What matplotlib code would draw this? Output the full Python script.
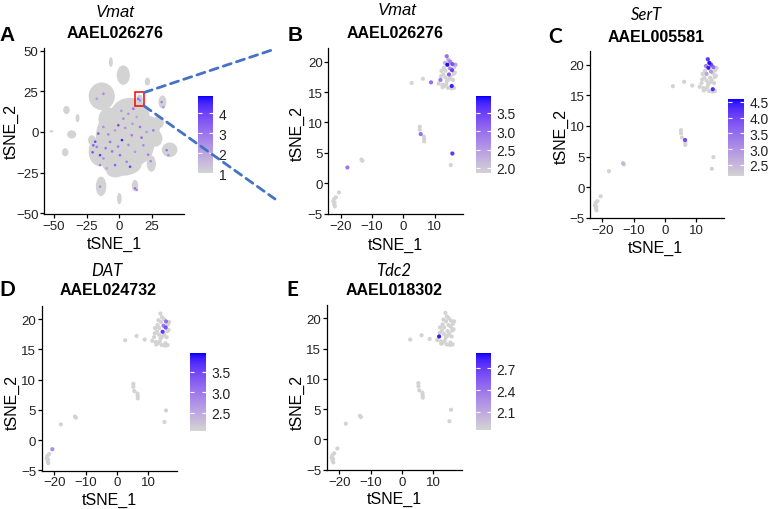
import matplotlib
matplotlib.use("Agg")
import matplotlib.pyplot as plt
import matplotlib.patches as patches
from matplotlib.colors import ListedColormap, Normalize
from matplotlib.cm import ScalarMappable
import numpy as np

plt.rcParams['font.family'] = ['Liberation Sans', 'DejaVu Sans']

W, H = 779, 510

# ---------------- panel A: whole atlas, cluster outlines (x, y, width, height) ----------------
blob_x = [5, 8, -15, 22, 2, 28, -21, -13.5, 3, -6.5, 21.5, 15.5, 33, -40.5, -36.5, -52, -41.5, -32, 38.5, 24.5, -14, 12, 0,
          -8, 16, -3, 30]
blob_y = [-3, 10, -12, 2, -20, -4, -5, 22, 35, 43, 31, 20, 18.5, 13.5, -1.5, 0.4, -12.5, 8.5, -11, -19.5, -33.5, -33, -41,
          8, -10, -24, 6]
blob_w = [46, 30, 17, 18, 30, 10, 6, 20, 10, 3, 4, 5, 6, 5, 7, 3, 5, 3, 12, 7, 8, 5, 3.5,
          16, 20, 14, 8]
blob_h = [40, 22, 18, 16, 14, 10, 6, 17, 12, 6, 5, 6, 8, 5, 5, 1.5, 5, 5, 9, 10, 12, 7, 7,
          14, 18, 8, 8]

# expressing cells in panel A
a_x = [-19.9, -17.3, -14.8, -12.2, -7.1, -3.3, -0.8, 3.1, 6.9, 10.7, 13.3, 15.8, 0.5, 5.6,
       8.2, 12.0, 18.4, -3.3, -9.7, -14.8, -16.1, -12.2, 20.9, 26.0, 36.2, 37.5, 32.4, 33.7,
       14.5, 15.8, 12.0, 13.3, -14.8, -17.3, -12.2, 2.0, -5.5, 9.5, -20.5, 24.0,
       -1.0, 4.5, 17.0, -8.5, 10.0, 22.0, -18.5, 7.0, 1.5, -10.5]
a_y = [-8.2, -9.2, -14.3, -16.3, -6.1, 1.0, 4.1, 8.2, 11.2, 14.3, 9.2, 3.1, -14.3, -18.4,
       -21.4, -12.2, -8.2, -20.4, -22.4, -20.4, -1.0, 3.1, 0.0, 1.0, -11.2, -14.3, 18.4, 15.3,
       20.4, 19.4, -34.7, -35.7, -33.7, 20.4, 23.5, -5.0, -12.0, -2.0, -12.5, -18.0,
       -9.0, 2.5, -3.5, -1.5, 5.0, -14.0, -6.0, -8.0, 13.0, -10.0]
a_val = [3.5, 2.8, 4.2, 2.5, 3.0, 2.2, 3.8, 2.6, 2.4, 3.1, 2.0, 2.9, 3.3, 2.7,
         4.0, 2.3, 2.6, 3.4, 2.1, 2.8, 3.6, 2.5, 2.2, 2.9, 3.0, 2.4, 2.7, 2.3,
         3.2, 2.6, 3.0, 2.5, 2.4, 2.2, 2.6, 4.5, 3.1, 2.8, 3.7, 2.5,
         2.9, 2.4, 3.3, 2.6, 2.2, 2.8, 3.9, 2.5, 2.3, 3.0]

# ---------------- panels B-E: zoomed cell subset ----------------
cell_x = [-22.2, -22.4, -22.1, -21.9, -21.6, -22.0, -20.6, -17.9, -13.4, -13.1,
          5.2, 5.2, 5.5, 6.5, 6.6, 6.6, 15.6, 15.1, 2.6, 6.2, 8.8,
          13.8, 14.3, 14.0, 15.6, 16.2, 15.5, 13.4, 12.7, 11.8, 11.2, 12.4, 13.6,
          15.4, 15.3, 16.1, 14.5, 13.4, 12.9, 14.5, 15.0, 16.4, 16.6, 13.2, 14.8,
          12.1, 13.9, 15.8, 14.2, 12.0, 16.0, 14.9, 13.0, 12.5]
cell_y = [-2.6, -3.0, -3.5, -3.8, -2.3, -3.2, -1.5, 2.6, 3.9, 3.7,
          9.3, 8.8, 8.1, 7.7, 7.3, 6.9, 4.9, 3.0, 16.5, 17.2, 16.6,
          20.9, 20.3, 19.5, 19.6, 19.1, 18.6, 18.5, 17.9, 17.0, 16.4, 16.2, 16.3,
          16.0, 15.6, 15.7, 17.1, 17.4, 19.0, 17.9, 17.5, 18.2, 19.5, 19.8, 18.9,
          18.5, 16.8, 17.0, 15.7, 17.6, 18.0, 20.0, 16.0, 15.8]

n_cells = len(cell_x)


def expr(pairs):
    vals = [0.0] * n_cells
    for i, v in pairs.items():
        vals[i] = v
    return vals


vmat = expr({7: 2.9, 12: 3.0, 16: 3.6, 20: 3.0, 21: 3.0, 23: 3.9, 24: 3.3, 26: 3.5,
             29: 2.9, 33: 3.8, 39: 3.2, 44: 2.6, 51: 2.8, 42: 2.4, 22: 2.3, 43: 2.2})
sert = expr({13: 4.0, 21: 4.2, 22: 4.5, 23: 4.4, 51: 4.0, 24: 3.5, 44: 3.0, 43: 3.2,
             33: 4.3, 27: 2.8, 8: 2.5})
dat = expr({44: 3.0, 39: 3.6, 26: 3.4, 24: 3.1, 6: 2.8})
tdc2 = expr({29: 2.85})


# lightgrey -> blue, blended in Lab space like ggplot's scale_colour_gradient
def _to_lab(rgb):
    c = np.array(rgb, float)
    c = np.where(c > 0.04045, ((c + 0.055) / 1.055) ** 2.4, c / 12.92)
    m = np.array([[0.4124, 0.3576, 0.1805], [0.2126, 0.7152, 0.0722], [0.0193, 0.1192, 0.9505]])
    xyz = m @ c / np.array([0.95047, 1.0, 1.08883])
    f = np.where(xyz > 0.008856, np.cbrt(xyz), 7.787 * xyz + 16 / 116)
    return np.array([116 * f[1] - 16, 500 * (f[0] - f[1]), 200 * (f[1] - f[2])])


def _from_lab(lab):
    fy_ = (lab[0] + 16) / 116
    f = np.array([fy_ + lab[1] / 500, fy_, fy_ - lab[2] / 200])
    xyz = np.where(f ** 3 > 0.008856, f ** 3, (f - 16 / 116) / 7.787) * np.array([0.95047, 1.0, 1.08883])
    m = np.array([[3.2406, -1.5372, -0.4986], [-0.9689, 1.8758, 0.0415], [0.0557, -0.2040, 1.0570]])
    c = m @ xyz
    c = np.where(c > 0.0031308, 1.055 * np.clip(c, 0, None) ** (1 / 2.4) - 0.055, 12.92 * c)
    return np.clip(c, 0, 1)


lo, hi = _to_lab([211 / 255] * 3), _to_lab([0, 0, 1])
cmap = ListedColormap([_from_lab(lo + (hi - lo) * t) for t in np.linspace(0, 1, 256)])


def fx(px):
    return px / W


def fy(py):
    return 1 - py / H


def add_axes_px(fig, left, top, right, bottom):
    return fig.add_axes([fx(left), fy(bottom), (right - left) / W, (bottom - top) / H])


def style(ax):
    for s in ['top', 'right']:
        ax.spines[s].set_visible(False)
    for s in ['left', 'bottom']:
        ax.spines[s].set_linewidth(0.9)
    ax.tick_params(labelsize=9.5, length=3, width=0.9, colors='black', labelcolor='#222222', pad=1)


def colorbar(fig, box, vmin, vmax, ticks, fmt):
    cax = add_axes_px(fig, *box)
    sm = ScalarMappable(norm=Normalize(vmin, vmax), cmap=cmap)
    cb = fig.colorbar(sm, cax=cax, ticks=ticks)
    cb.outline.set_visible(False)
    cb.set_ticklabels([fmt.format(t) for t in ticks])
    cax.tick_params(axis='y', direction='in', length=3, width=0.8, color='white',
                    left=True, right=True, labelsize=10, labelcolor='#222222', pad=4)


def titles(fig, letter, gene, gid, gx, gy, bx, by, lx, ly, font='Liberation Sans'):
    fig.text(fx(gx), fy(gy), gene, fontsize=12, style='italic', ha='center', va='center', family=font)
    fig.text(fx(bx), fy(by), gid, fontsize=11.5, fontweight='bold', ha='center', va='center')
    fig.text(fx(lx), fy(ly), letter, fontsize=15, fontweight='bold', ha='center', va='center', family=font)


def labels(fig, x1, y1, x2, y2):
    fig.text(fx(x1), fy(y1), 'tSNE_1', fontsize=11.5, ha='center', va='center')
    fig.text(fx(x2), fy(y2), 'tSNE_2', fontsize=11.5, ha='center', va='center', rotation=90)


def zoom_panel(fig, box, vals, vmin, vmax):
    ax = add_axes_px(fig, *box)
    order = np.argsort(vals, kind='stable')
    xs = np.array(cell_x)[order]
    ys = np.array(cell_y)[order]
    vs = np.array(vals)[order]
    ax.scatter(xs, ys, c=vs, cmap=cmap, norm=Normalize(vmin, vmax, clip=True), s=9, linewidths=0)
    ax.set_xlim(-24.0, 19.0)
    ax.set_ylim(-5.05, 22.2)
    ax.set_xticks([-20, -10, 0, 10])
    ax.set_yticks([-5, 0, 5, 10, 15, 20])
    ax.set_xticklabels(['\u221220', '\u221210', '0', '10'])
    ax.set_yticklabels(['\u22125', '0', '5', '10', '15', '20'])
    style(ax)
    return ax


fig = plt.figure(figsize=(W / 100, H / 100), dpi=100)

# ---- A ----
axA = add_axes_px(fig, 44, 49.3, 184, 215)
for x, y, w, h in zip(blob_x, blob_y, blob_w, blob_h):
    axA.add_patch(patches.Ellipse((x, y), w, h, fc='#D3D3D3', ec='none'))
order = np.argsort(a_val)
axA.scatter(np.array(a_x)[order], np.array(a_y)[order], c=np.array(a_val)[order], cmap=cmap,
            norm=Normalize(1.0, 4.85), s=3.5, linewidths=0, zorder=3)
axA.add_patch(patches.Rectangle((11.7, 16.0), 7.3, 8.3, fill=False, ec='red', lw=1.1, zorder=4))
axA.set_xlim(-57.7, 49.5)
axA.set_ylim(-50.5, 51.5)
axA.set_xticks([-50, -25, 0, 25])
axA.set_yticks([-50, -25, 0, 25, 50])
axA.set_xticklabels(['\u221250', '\u221225', '0', '25'])
axA.set_yticklabels(['\u221250', '\u221225', '0', '25', '50'])
style(axA)
colorbar(fig, (198, 97, 213, 174), 1.0, 4.85, [1, 2, 3, 4], '{:.0f}')
titles(fig, 'A', 'Vmat', 'AAEL026276', 115, 12.8, 115, 33.3, 7.5, 35.5)
labels(fig, 114, 244.5, 11.2, 131.7)

# dashed zoom lines
for corner, end in [((19.0, 24.3), (275, H - 50)), ((19.0, 16.0), (275, H - 200))]:
    con = patches.ConnectionPatch(xyA=corner, coordsA=axA.transData, xyB=end, coordsB='figure pixels',
                                  color='#4472C4', lw=2, linestyle=(0, (3, 2)))
    fig.add_artist(con)

# ---- B ----
zoom_panel(fig, (328.3, 49.3, 463, 215), vmat, 1.86, 3.95)
colorbar(fig, (476, 97.3, 491, 174), 1.86, 3.95, [2.0, 2.5, 3.0, 3.5], '{:.1f}')
titles(fig, 'B', 'Vmat', 'AAEL026276', 397, 10.5, 395, 33.3, 295, 35.5)
labels(fig, 395, 245.5, 297.5, 133.3)

# ---- C ----
zoom_panel(fig, (590, 52.3, 724, 219), sert, 2.14, 4.59)
colorbar(fig, (728, 100, 744, 177.3), 2.14, 4.59, [2.5, 3.0, 3.5, 4.0, 4.5], '{:.1f}')
titles(fig, 'C', 'SerT', 'AAEL005581', 646.7, 14.7, 656.2, 37.2, 554.7, 36.7, font='Lato')
labels(fig, 655.8, 248.5, 561, 136.7)

# ---- D ----
zoom_panel(fig, (41.7, 306.7, 176.7, 471.7), dat, 2.07, 3.95)
colorbar(fig, (190, 354.3, 205.7, 431.7), 2.07, 3.95, [2.5, 3.0, 3.5], '{:.1f}')
titles(fig, 'D', 'DAT', 'AAEL024732', 106.7, 270.8, 108.3, 290.5, 7.5, 290, font='Lato')
labels(fig, 109, 500, 12.5, 402.5)

# ---- E ----
zoom_panel(fig, (326.7, 306, 461.7, 471), tdc2, 1.85, 2.91)
colorbar(fig, (476, 354.3, 490.7, 430.7), 1.85, 2.91, [2.1, 2.4, 2.7], '{:.1f}')
titles(fig, 'E', 'Tdc2', 'AAEL018302', 393.3, 270.8, 394.3, 290.5, 292, 290, font='Lato')
labels(fig, 394, 499, 297.5, 402.5)

fig.savefig('out.png', dpi=100)
